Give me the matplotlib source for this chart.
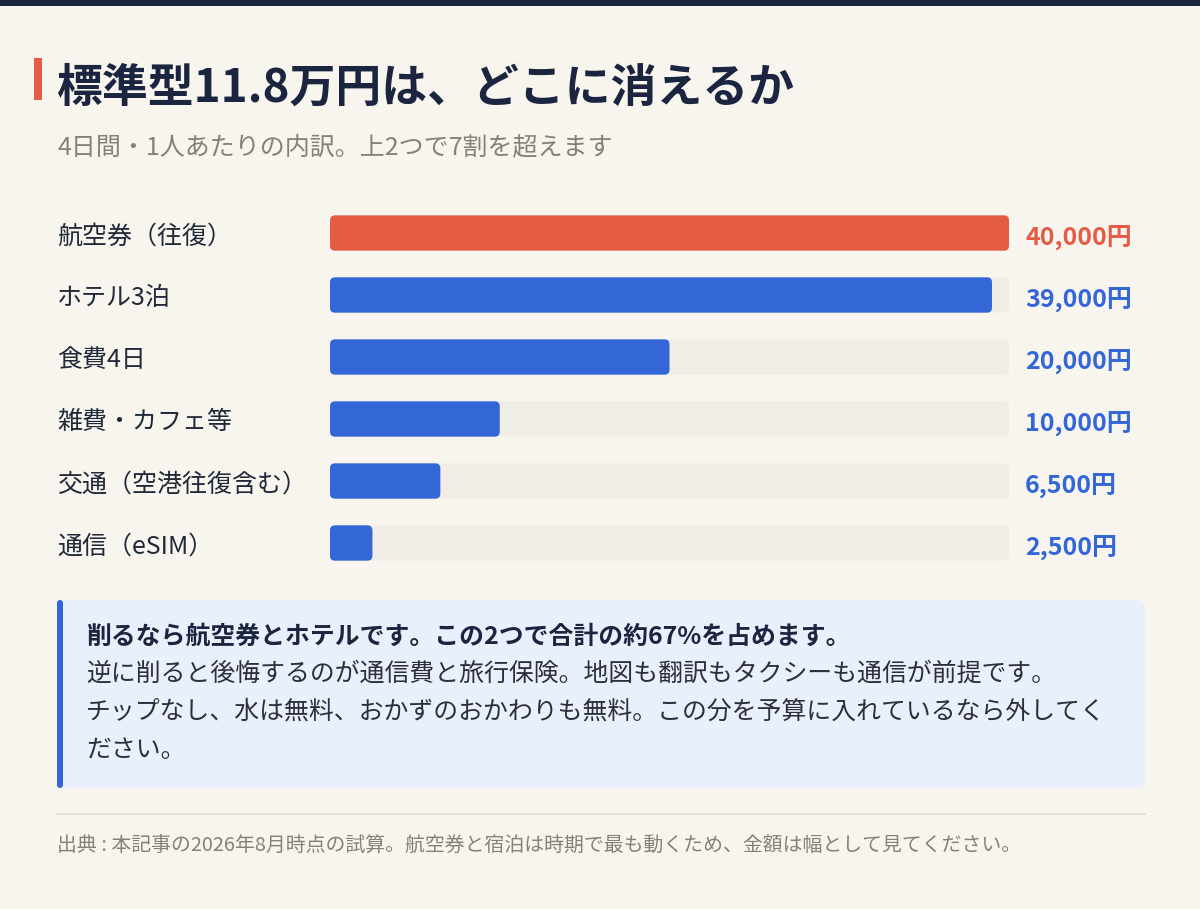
import matplotlib
matplotlib.use('Agg')
import matplotlib.pyplot as plt
from matplotlib.patches import Rectangle, FancyBboxPatch

plt.rcParams['font.family'] = ['Noto Sans CJK JP', 'DejaVu Sans']

# ----------------------------------------------------------------------------------------------------------------------
title = '標準型11.8万円は、どこに消えるか'
subtitle = '4日間・1人あたりの内訳。上2つで7割を超えます'
categories = ['航空券（往復）', 'ホテル3泊', '食費4日', '雑費・カフェ等', '交通（空港往復含む）', '通信（eSIM）']
values = [40000, 39000, 20000, 10000, 6500, 2500]
highlight = [True, False, False, False, False, False]
note_bold = '削るなら航空券とホテルです。この2つで合計の約67%を占めます。'
note_lines = ['逆に削ると後悔するのが通信費と旅行保険。地図も翻訳もタクシーも通信が前提です。',
              'チップなし、水は無料、おかずのおかわりも無料。この分を予算に入れているなら外してく',
              'ださい。']
source = '出典 : 本記事の2026年8月時点の試算。航空券と宿泊は時期で最も動くため、金額は幅として見てください。'

BG = '#f8f5ef'
NAVY = '#1b2540'
RED = '#e55c45'
BLUE = '#3366d6'
TRACK = '#f0ede7'
GRAY = '#85817a'
W, H = 1200, 909


# ======================================================================================================================
def round_bars(ax, bars, r_px):
    """ Replace the rectangles of 'bars' by rounded boxes of radius 'r_px' pixels.
    """
    x0, x1 = ax.get_xlim()
    y0, y1 = ax.get_ylim()
    bb = ax.get_position()
    ux = abs(x1 - x0) / (bb.width * W)      # data units per pixel
    uy = abs(y1 - y0) / (bb.height * H)
    for b in bars:
        b.set_visible(False)
        p = FancyBboxPatch((b.get_x(), b.get_y()), b.get_width(), b.get_height(),
                           boxstyle=f'round,pad=0,rounding_size={r_px * ux}',
                           mutation_aspect=uy / ux, facecolor=b.get_facecolor(),
                           edgecolor='none', zorder=b.get_zorder())
        ax.add_patch(p)


# ======================================================================================================================
fig = plt.figure(figsize=(W / 100, H / 100), dpi=100, facecolor=BG)

bg = fig.add_axes([0, 0, 1, 1])
bg.set_xlim(0, W)
bg.set_ylim(H, 0)
bg.axis('off')

bg.add_patch(Rectangle((0, 0), W, 6, color=NAVY, lw=0))
bg.add_patch(Rectangle((34, 58), 8, 42, color=RED, lw=0))
bg.text(56, 89, title, fontsize=33, fontweight='bold', color=NAVY, va='center', ha='left')
bg.text(57, 147, subtitle, fontsize=18, color=GRAY, va='center', ha='left')

# bars
ax = fig.add_axes([330 / W, 1 - 574 / H, 679 / W, 372 / H])
ax.set_xlim(0, max(values))
ax.set_ylim(len(values) - 0.5, -0.5)
ax.axis('off')
ypos = list(range(len(values)))
colors = [RED if h else BLUE for h in highlight]
tracks = ax.barh(ypos, [max(values)] * len(values), height=0.57, color=TRACK, zorder=1)
bars = ax.barh(ypos, values, height=0.57, color=colors, zorder=2)
round_bars(ax, tracks, 5)
round_bars(ax, bars, 5)

tr = ax.get_yaxis_transform()
for y, c, v, col in zip(ypos, categories, values, colors):
    ax.text((57 - 330) / 679, y + 0.05, c, transform=tr, fontsize=18, color='#1f2937',
            va='center', ha='left', clip_on=False)
    ax.text((1025 - 330) / 679, y + 0.08, f'{v:,}円', transform=tr, fontsize=18,
            fontweight='bold', color=col, va='center', ha='left', clip_on=False)

# callout
bg.add_patch(FancyBboxPatch((57, 600), 1088, 188, boxstyle='round,pad=0,rounding_size=9',
                            facecolor='#eaf0fb', edgecolor='none'))
bg.add_patch(FancyBboxPatch((57, 600), 6, 188, boxstyle='round,pad=0,rounding_size=3',
                            facecolor=BLUE, edgecolor='none'))
bg.text(86, 637, note_bold, fontsize=17.9, fontweight='bold', color=NAVY, va='center', ha='left')
for i, line in enumerate(note_lines):
    bg.text(86, 674 + 38 * i, line, fontsize=17.9, color='#2b2f3a', va='center', ha='left')

# footer
bg.plot([57, 1145], [814, 814], color='#e2ded6', lw=1.2)
bg.text(57, 845, source, fontsize=14.3, color=GRAY, va='center', ha='left')

fig.savefig('out.png', dpi=100, facecolor=BG)
